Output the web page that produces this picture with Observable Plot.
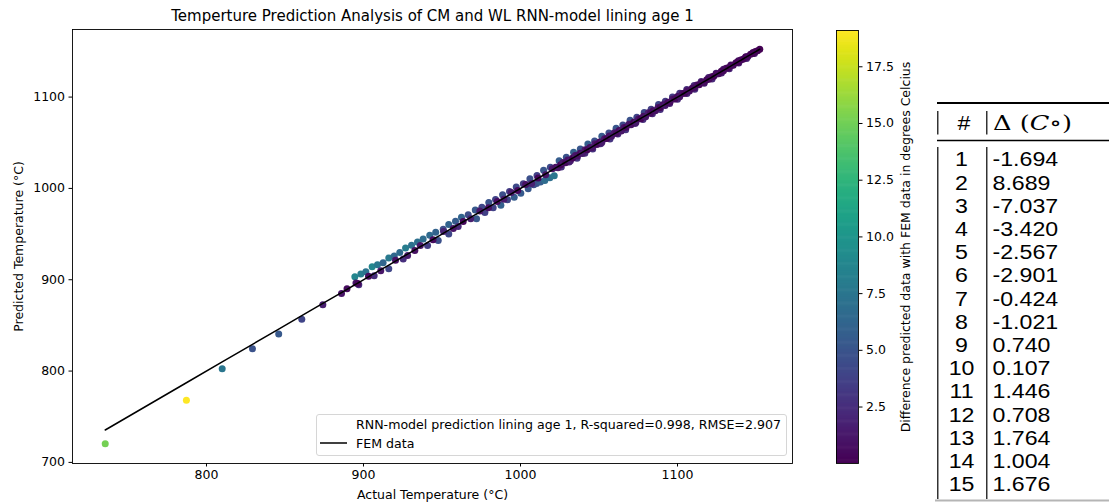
<!DOCTYPE html>
<html><head><meta charset="utf-8">
<script src="https://cdn.jsdelivr.net/npm/d3@7"></script>
<script src="https://cdn.jsdelivr.net/npm/@observablehq/plot@0.6"></script>
<style>
body{margin:0;background:#fff;}
#wrap{position:relative;width:1109px;height:504px;overflow:hidden;font-family:"DejaVu Sans";background:#fff;}
#main{position:absolute;left:0;top:0;}
#cbar{position:absolute;left:800px;top:0;}
#legend{position:absolute;left:316px;top:414px;width:471px;height:42px;box-sizing:border-box;border:1px solid #d6d6d6;border-radius:3px;background:rgba(255,255,255,0.8);font-size:12.6px;color:#000;white-space:nowrap;}
#table{position:absolute;left:930px;top:0;}
</style></head>
<body><div id="wrap"><div id="main"></div><div id="cbar"></div><div id="legend"></div><div id="table"></div></div>
<script>
// ---- chart text ----
const titleText = "Temperture Prediction Analysis of CM and WL RNN-model lining age 1";
const xLabel = "Actual Temperature (°C)";
const yLabel = "Predicted Temperature (°C)";
const cbLabel = "Difference predicted data with FEM data in degrees Celcius";
const legendScatter = "RNN-model prediction lining age 1, R-squared=0.998, RMSE=2.907";
const legendLine = "FEM data";

// ---- tick labels ----
const xTicks = [800, 900, 1000, 1100];
const yTicks = [700, 800, 900, 1000, 1100];
const cbTicks = [2.5, 5.0, 7.5, 10.0, 12.5, 15.0, 17.5];

// ---- scatter data: actual temperature and prediction error (predicted - actual) ----
const sparseActual = [735.5, 787.2, 810.0, 829.3, 846.0, 860.7, 874.1, 886.0];
const sparseDiff   = [-15.1, -19.1, -7.5, -4.8, -5.3, -3.9, -1.6, -1.0];

const upperActual = [894.5, 898.3, 901.5, 905.5, 908.9, 912.5, 916.1, 919.6, 923.1, 926.8,
  930.6, 934.4, 938.0, 942.2, 946.0, 950.8, 954.3, 958.6, 962.4, 966.7,
  971.2, 975.4, 979.8, 984.1, 988.6, 993.0, 997.3, 1001.8, 1006.0, 1010.5,
  1014.7, 1019.0, 1024.6, 1029.2, 1033.8, 1038.1, 1042.9, 1047.2, 1051.8, 1056.3,
  1060.9, 1065.2, 1069.8, 1074.1, 1078.8, 1083.2, 1087.9, 1092.3, 1096.8, 1101.4,
  1105.9, 1110.6, 1115.1, 1119.8, 1124.6, 1129.3, 1134.0, 1138.8, 1143.5, 1148.1];
const upperDiff = [8.8, 8.0, 7.3, 8.8, 7.6, 6.2, 7.7, 6.4, 6.6, 8.0,
  7.1, 7.0, 6.7, 6.5, 6.0, 4.5, 6.1, 5.5, 6.1, 4.5,
  5.2, 4.1, 4.9, 3.8, 4.6, 3.5, 4.3, 3.4, 4.7, 3.6,
  5.1, 4.2, 5.6, 4.9, 5.9, 5.1, 5.7, 4.7, 5.4, 4.5,
  5.1, 4.2, 4.8, 3.9, 4.3, 3.5, 3.9, 3.1, 3.3, 2.7,
  2.5, 2.2, 1.9, 1.7, 1.5, 1.3, 1.1, 0.9, 0.8, 0.6];

const lowerActual = [897.0, 906.8, 916.1, 925.3, 932.7, 940.8, 947.6, 954.3, 960.3, 972.0,
  977.3, 982.6, 987.5, 991.7, 996.0, 1000.2, 1004.9, 1008.4, 1010.2, 1012.7,
  1015.5, 1018.7, 1021.5];
const lowerDiff = [-2.5, -2.4, -4.0, -2.6, -0.8, -3.4, -4.7, -4.1, -2.1, -5.3,
  -3.7, -3.8, -5.9, -4.1, -5.6, -5.4, -5.2, -4.3, -4.7, -5.6,
  -6.7, -6.9, -7.5];

const midActual = [889.5, 895.2, 896.4, 903.2, 911.0, 920.4, 928.1, 936.2, 944.3, 951.0,
  957.2, 963.5, 968.3, 974.1, 979.6, 985.2, 989.4, 994.1, 998.2, 1003.3,
  1007.1, 1011.2, 1016.0, 1020.3];
const midDiff = [0.6, 1.2, -0.4, 0.5, -1.2, 0.9, -1.5, 1.2, -0.6, 1.8,
  -1.0, 0.4, -1.6, 1.1, -0.8, 0.6, -1.3, 1.5, -0.4, 0.9,
  -1.7, 0.3, -1.1, 1.2];

const bandLowActual = [1026, 1031, 1036, 1041, 1046, 1051, 1057, 1062, 1067, 1073,
  1078, 1084, 1089, 1095, 1100, 1106, 1111, 1117, 1122, 1128,
  1133, 1139, 1144, 1149];
const bandLowDiff = [-2.6, -2.2, -3.0, -2.4, -2.8, -2.1, -2.9, -2.3, -2.7, -2.0,
  -2.5, -2.2, -2.6, -1.9, -2.3, -2.0, -2.4, -1.8, -2.1, -1.7,
  -2.0, -1.6, -1.8, -1.4];

const bandActual = [1022.4, 1023.9, 1025.6, 1027.0, 1028.7, 1030.1, 1031.8, 1033.2, 1034.9, 1036.3,
  1038.0, 1039.4, 1041.1, 1042.5, 1044.2, 1045.6, 1047.3, 1048.7, 1050.4, 1051.8,
  1053.5, 1054.9, 1056.6, 1058.0, 1059.7, 1061.1, 1062.8, 1064.2, 1065.9, 1067.3,
  1069.0, 1070.4, 1072.1, 1073.5, 1075.2, 1076.6, 1078.3, 1079.7, 1081.4, 1082.8,
  1084.5, 1085.9, 1087.6, 1089.0, 1090.7, 1092.1, 1093.8, 1095.2, 1096.9, 1098.3,
  1100.0, 1101.4, 1103.1, 1104.5, 1106.2, 1107.6, 1109.3, 1110.7, 1112.4, 1113.8,
  1115.5, 1116.9, 1118.6, 1120.0, 1121.7, 1123.1, 1124.8, 1126.2, 1127.9, 1129.3,
  1131.0, 1132.4, 1134.1, 1135.5, 1137.2, 1138.6, 1140.3, 1141.7, 1143.4, 1144.8,
  1146.5, 1147.9, 1149.6, 1151.0, 1152.4];
const bandDiff = [0.8, -1.2, 0.3, 1.4, -0.6, 0.9, -1.5, 0.2, 1.1, -0.9,
  0.6, -1.3, 1.2, -0.2, 0.7, -1.1, 1.5, -0.5, 0.4, -1.4,
  1.0, -0.3, 0.8, -1.0, 1.3, -0.7, 0.5, -1.2, 0.9, -0.4,
  1.2, -0.8, 0.3, -1.3, 1.0, -0.2, 0.7, -1.1, 1.4, -0.6,
  0.5, -0.9, 1.1, -0.3, 0.8, -1.2, 0.4, -0.7, 1.0, -0.5,
  0.6, -1.0, 0.9, -0.4, 0.7, -0.8, 0.5, -0.6, 0.8, -0.3,
  0.6, -0.7, 0.4, -0.5, 0.7, -0.2, 0.5, -0.6, 0.3, -0.4,
  0.6, -0.3, 0.4, -0.5, 0.3, -0.2, 0.4, -0.3, 0.2, -0.4,
  0.3, -0.1, 0.2, -0.2, 0.01];

// ---- table data ----
const tableIdx = [1, 2, 3, 4, 5, 6, 7, 8, 9, 10, 11, 12, 13, 14, 15];
const tableDelta = [-1.694, 8.689, -7.037, -3.420, -2.567, -2.901, -0.424, -1.021, 0.740, 0.107, 1.446, 0.708, 1.764, 1.004, 1.676];

// ---- build records ----
const groups = [
  [upperActual, upperDiff],
  [lowerActual, lowerDiff],
  [sparseActual, sparseDiff],
  [midActual, midDiff],
  [bandLowActual, bandLowDiff],
  [bandActual, bandDiff]
];
const points = [];
for (const [a, d] of groups) a.forEach((v, i) => points.push({actual: v, predicted: v + d[i], err: Math.abs(d[i])}));
const fem = points.map(p => ({actual: p.actual})).sort((a, b) => a.actual - b.actual);
const [cMin, cMax] = d3.extent(points, p => p.err);

const allA = points.map(p => p.actual), allP = points.map(p => p.predicted);
const ax0 = d3.min(allA), ax1 = d3.max(allA), ay0 = d3.min(allP), ay1 = d3.max(allP);
const xPad = (ax1 - ax0) * 0.05, yPad = (ay1 - ay0) * 0.05;

const colorOpt = {type: "linear", scheme: "viridis", domain: [cMin, cMax]};
const baseFont = 12.5;

const main = Plot.plot({
  width: 800, height: 504,
  marginLeft: 72, marginRight: 8, marginTop: 29, marginBottom: 41,
  style: {fontFamily: "DejaVu Sans", fontSize: baseFont + "px", color: "#000", background: "transparent", overflow: "visible"},
  x: {domain: [ax0 - xPad, ax1 + xPad], ticks: xTicks, tickFormat: d3.format("d"), tickSize: 3.5, tickPadding: 3, label: null},
  y: {domain: [ay0 - yPad, ay1 + yPad], ticks: yTicks, tickFormat: d3.format("d"), tickSize: 3.5, tickPadding: 4, label: null},
  color: colorOpt,
  marks: [
    Plot.dot(points, {x: "actual", y: "predicted", fill: "err", r: 3.5}),
    Plot.line(fem, {x: "actual", y: "actual", stroke: "#000", strokeWidth: 1.5}),
    Plot.frame({stroke: "#000", strokeWidth: 0.9}),
    Plot.text([titleText], {text: d => d, frameAnchor: "top", dy: -13, lineAnchor: "middle", textAnchor: "middle", fontSize: 15, fill: "#000"}),
    Plot.text([xLabel], {text: d => d, frameAnchor: "bottom", dy: 31, lineAnchor: "middle", textAnchor: "middle", fontSize: baseFont, fill: "#000"}),
    Plot.text([yLabel], {text: d => d, frameAnchor: "left", dx: -54, rotate: -90, lineAnchor: "middle", textAnchor: "middle", fontSize: baseFont, fill: "#000"})
  ]
});
document.getElementById("main").appendChild(main);

// ---- colorbar ----
const nSteps = 400;
const cStep = (cMax - cMin) / nSteps;
const cSlices = d3.range(nSteps).map(i => cMin + i * cStep);
const cbar = Plot.plot({
  width: 130, height: 504,
  marginLeft: 36, marginRight: 72, marginTop: 30, marginBottom: 41,
  style: {fontFamily: "DejaVu Sans", fontSize: baseFont + "px", color: "#000", background: "transparent", overflow: "visible"},
  y: {domain: [cMin, cMax], ticks: cbTicks, tickFormat: d3.format(".1f"), tickSize: 3.5, tickPadding: 4, label: null, axis: "right"},
  color: colorOpt,
  marks: [
    Plot.rect(cSlices, {y1: d => d, y2: d => Math.min(cMax, d + cStep * 1.6), fill: d => d + cStep / 2}),
    Plot.frame({stroke: "#000", strokeWidth: 0.9}),
    Plot.text([cbLabel], {text: d => d, frameAnchor: "right", dx: 47, rotate: -90, lineAnchor: "middle", textAnchor: "middle", fontSize: baseFont, fill: "#000"})
  ]
});
document.getElementById("cbar").appendChild(cbar);

// ---- legend ----
const lg = d3.select("#legend");
lg.append("div").style("position", "absolute").style("left", "39px").style("top", "2px").text(legendScatter);
lg.append("svg").attr("width", 30).attr("height", 14)
  .style("position", "absolute").style("left", "3px").style("top", "21px")
  .append("line").attr("x1", 0).attr("x2", 27).attr("y1", 7).attr("y2", 7).attr("stroke", "#000").attr("stroke-width", 1.5);
lg.append("div").style("position", "absolute").style("left", "39px").style("top", "21px").text(legendLine);

// ---- table ----
const ox = 930;
const tsvg = d3.select("#table").append("svg").attr("width", 179).attr("height", 504);
tsvg.append("line").attr("x1", 937 - ox).attr("x2", 179).attr("y1", 103).attr("y2", 103).attr("stroke", "#000").attr("stroke-width", 2);
tsvg.append("line").attr("x1", 937 - ox).attr("x2", 179).attr("y1", 140.5).attr("y2", 140.5).attr("stroke", "#000").attr("stroke-width", 1.4);
for (const bx of [937.8, 986.8]) {
  tsvg.append("line").attr("x1", bx - ox).attr("x2", bx - ox).attr("y1", 111).attr("y2", 134.5).attr("stroke", "#000").attr("stroke-width", 1.2);
  tsvg.append("line").attr("x1", bx - ox).attr("x2", bx - ox).attr("y1", 147).attr("y2", 499).attr("stroke", "#000").attr("stroke-width", 1.2);
}
tsvg.append("line").attr("x1", 935 - ox).attr("x2", 179).attr("y1", 500.5).attr("y2", 500.5).attr("stroke", "#b5b5b5").attr("stroke-width", 2);

const sansFont = "'Liberation Sans', Arial, sans-serif";
tsvg.append("text").attr("transform", `translate(${964 - ox},130) scale(1.13,1)`)
  .attr("text-anchor", "middle").attr("font-family", sansFont).attr("font-size", 20.5).text("#");
const hdr = tsvg.append("text").attr("x", 993 - ox).attr("y", 130)
  .attr("font-family", "'DejaVu Serif', 'Liberation Serif', serif").attr("font-size", 21)
  .attr("textLength", 79).attr("lengthAdjust", "spacingAndGlyphs");
hdr.append("tspan").text("Δ (");
hdr.append("tspan").attr("font-style", "italic").text("C");
hdr.append("tspan").text("∘)");

tableIdx.forEach((n, i) => {
  const by = 166.3 + i * 23.2;
  tsvg.append("text").attr("transform", `translate(${961.5 - ox},${by}) scale(1.13,1)`)
    .attr("text-anchor", "middle").attr("font-family", sansFont).attr("font-size", 20.5).text(String(n));
  tsvg.append("text").attr("transform", `translate(${992.5 - ox},${by}) scale(1.13,1)`)
    .attr("font-family", sansFont).attr("font-size", 20.5).text(tableDelta[i].toFixed(3));
});
</script></body></html>
